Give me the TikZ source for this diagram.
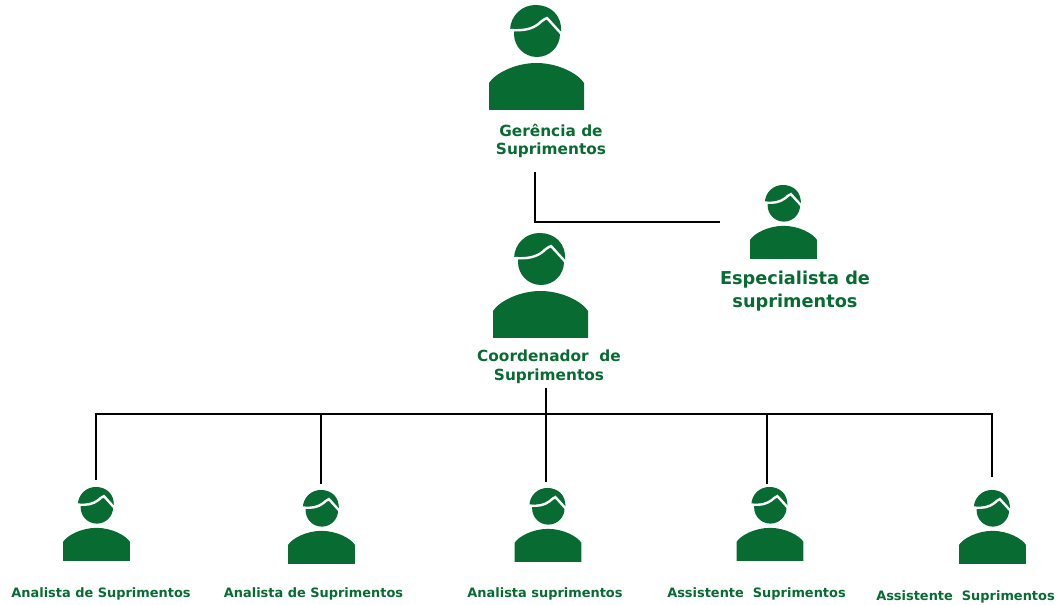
\documentclass[tikz,border=0pt]{standalone}
\usepackage{fontspec}
\setmainfont{DejaVu Sans}
\usepackage{xcolor}
\definecolor{verde}{HTML}{076B32}
\tikzset{
	person/.pic = {
		\fill [verde] (-47.5,0) -- (-47.5,-27) .. controls (-42,-36) and (-22,-47) .. (0,-47) .. controls (22,-47) and (42,-36) .. (47.5,-27) -- (47.5,0) -- cycle;
		\fill [verde] (0.5,-76) circle (23);
		\fill [verde] (-26.5,-80) .. controls (-26,-95) and (-14,-105) .. (-1,-105) .. controls (14,-105) and (26,-95) .. (24.5,-77) -- cycle;
		\draw [white, line width = 1.8pt] (-27,-80) .. controls (-12,-79) and (-5,-81) .. (2,-86) .. controls (5,-89) and (8,-91) .. (10.5,-92) -- (25,-76);
	},
	label/.style = {text = verde, align = center, inner sep = 0pt},
	biglabel/.style = {label, font = \fontsize{11.5}{14.2}\selectfont\bfseries},
	hugelabel/.style = {label, font = \fontsize{13.3}{17.3}\selectfont\bfseries},
	smalllabel/.style = {label, font = \fontsize{9.7}{11}\selectfont\bfseries},
	line/.style = {black, line width = 1.5pt}
}

\begin{document}
\begin{tikzpicture}[x = 0.75pt, y = -0.75pt]
	\def\small{0.705};
	\def\bus{414};

	\useasboundingbox (0,0) rectangle (1057,605);

	\pic at (536.5,110) {person};
	\pic at (540.5,338) {person};
	\pic [scale = \small] at (783.5,259) {person};
	\pic [scale = \small] at (96.5,561) {person};
	\pic [scale = \small] at (321.5,564) {person};
	\pic [scale = \small] at (548,562) {person};
	\pic [scale = \small] at (770,561) {person};
	\pic [scale = \small] at (992.5,564) {person};

	\node [biglabel] (gerencia) at (551,141) {Gerência de\\Suprimentos};
	\node [biglabel] (coordenador) at (549,367) {Coordenador~ de\\Suprimentos};
	\node [hugelabel] (especialista) at (795,291) {Especialista de\\suprimentos};
	\node [smalllabel] (analistaA) at (101,594) {Analista de Suprimentos};
	\node [smalllabel] (analistaB) at (313.5,594) {Analista de Suprimentos};
	\node [smalllabel] (analistaC) at (545,594) {Analista suprimentos};
	\node [smalllabel] (assistenteA) at (756.5,594) {Assistente~~Suprimentos};
	\node [smalllabel] (assistenteB) at (965.5,597) {Assistente~~Suprimentos};

	\coordinate (gerenciaBase) at (535,172);
	\coordinate (especialistaEnd) at (720,222);
	\coordinate (coordenadorBase) at (546,388);
	\coordinate (busA) at (96,\bus);
	\coordinate (busB) at (321,\bus);
	\coordinate (busC) at (546,\bus);
	\coordinate (busD) at (767,\bus);
	\coordinate (busE) at (992,\bus);
	\coordinate (endA) at (96,480);
	\coordinate (endB) at (321,484);
	\coordinate (endC) at (546,482);
	\coordinate (endD) at (767,484);
	\coordinate (endE) at (992,477);

	\draw [line] (gerenciaBase) |- (especialistaEnd);
	\draw [line] (coordenadorBase) -- (busC);
	\draw [line] (endA) -- (busA) -- (busE) -- (endE);
	\draw [line] (busB) -- (endB);
	\draw [line] (busC) -- (endC);
	\draw [line] (busD) -- (endD);
\end{tikzpicture}
\end{document}
